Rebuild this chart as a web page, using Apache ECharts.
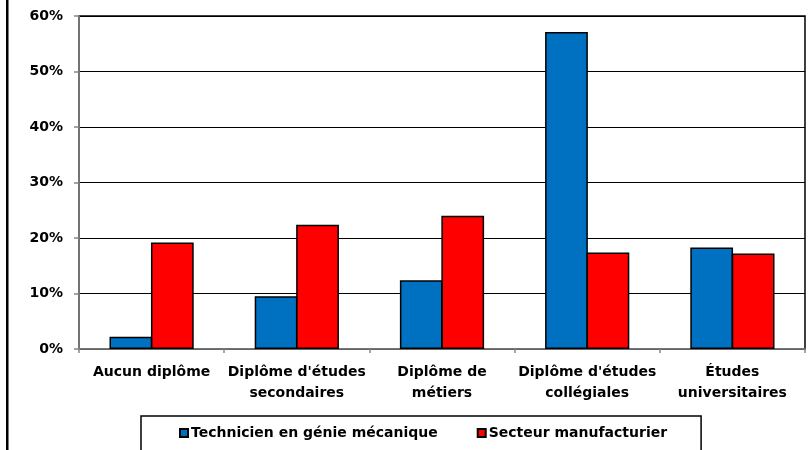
<!DOCTYPE html>
<html>
<head>
<meta charset="utf-8">
<style>
  html, body { margin: 0; padding: 0; background: #fff; }
  #chart { width: 808px; height: 450px; }
</style>
<script src="https://cdn.jsdelivr.net/npm/echarts@6/dist/echarts.min.js"></script>
</head>
<body>
<div id="chart"></div>
<script>
// Niveau de scolarité : part des travailleurs (%)
const categories = [
  'Aucun diplôme',
  "Diplôme d'études\nsecondaires",
  'Diplôme de\nmétiers',
  "Diplôme d'études\ncollégiales",
  'Études\nuniversitaires'
];
const technicienValues = [2.2, 9.5, 12.4, 57.1, 18.3];
const secteurValues = [19.2, 22.4, 24.0, 17.4, 17.2];
const seriesNames = ['Technicien en génie mécanique', 'Secteur manufacturier'];
const yTicks = { min: 0, max: 60, interval: 10 };

const FONT = '"DejaVu Sans", Verdana, sans-serif';

const chart = echarts.init(document.getElementById('chart'), null, { renderer: 'canvas' });

chart.setOption({
  animation: false,
  backgroundColor: '#ffffff',
  textStyle: { fontFamily: FONT },
  grid: {
    left: 79, right: 3, top: 16, bottom: 101,
    show: true,
    borderColor: '#000000',
    borderWidth: 1.5,
    containLabel: false
  },
  legend: {
    data: seriesNames,
    left: 141,
    top: 416,
    orient: 'horizontal',
    icon: 'rect',
    itemWidth: 8,
    itemHeight: 8,
    itemGap: 39,
    padding: [10, 34, 40, 38],
    borderColor: '#000000',
    borderWidth: 1.5,
    textStyle: {
      fontFamily: FONT,
      fontWeight: 'bold',
      fontSize: 14,
      color: '#000000',
      padding: [0, 0, 0, -2]
    }
  },
  xAxis: {
    type: 'category',
    data: categories,
    axisLine: { show: true, lineStyle: { color: '#868686', width: 1.5 } },
    axisTick: { show: true, length: 4, lineStyle: { color: '#868686', width: 1.5 } },
    axisLabel: {
      margin: 13,
      fontFamily: FONT,
      fontWeight: 'bold',
      fontSize: 14,
      lineHeight: 21,
      color: '#000000',
      interval: 0
    },
    splitLine: { show: false }
  },
  yAxis: {
    type: 'value',
    min: yTicks.min,
    max: yTicks.max,
    interval: yTicks.interval,
    axisLine: { show: true, lineStyle: { color: '#868686', width: 1.5 } },
    axisTick: { show: true, length: 5, lineStyle: { color: '#868686', width: 1.5 } },
    axisLabel: {
      formatter: '{value}%',
      margin: 16,
      fontFamily: FONT,
      fontWeight: 'bold',
      fontSize: 14,
      color: '#000000'
    },
    splitLine: { show: true, lineStyle: { color: '#000000', width: 1 } }
  },
  series: [
    {
      name: seriesNames[0],
      type: 'bar',
      data: technicienValues,
      barGap: '-3%',
      barCategoryGap: '42%',
      itemStyle: { color: '#0070C0', borderColor: '#000000', borderWidth: 1.5 }
    },
    {
      name: seriesNames[1],
      type: 'bar',
      data: secteurValues,
      barGap: '-3%',
      barCategoryGap: '42%',
      itemStyle: { color: '#FF0000', borderColor: '#000000', borderWidth: 1.5 }
    }
  ],
  graphic: [
    {
      // chart-area frame, left edge
      type: 'rect',
      shape: { x: 6, y: 0, width: 2.5, height: 450 },
      style: { fill: '#000000' },
      silent: true
    }
  ]
});
</script>
</body>
</html>
